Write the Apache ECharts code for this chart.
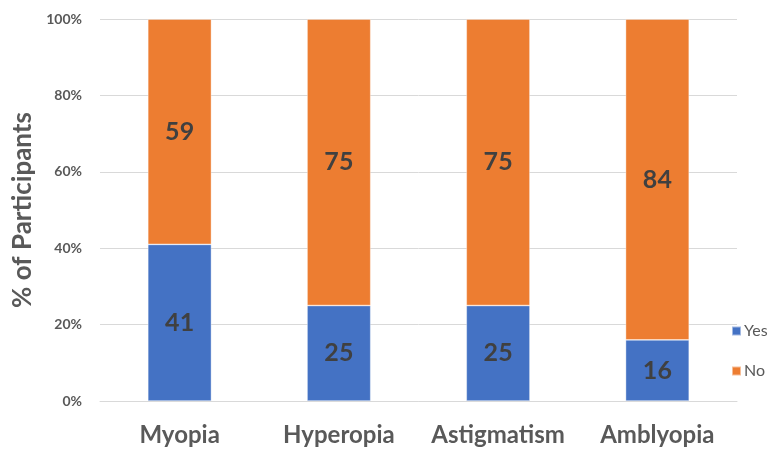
<!DOCTYPE html>
<html>
<head>
<meta charset="utf-8">
<script src="https://cdn.jsdelivr.net/npm/echarts@6/dist/echarts.min.js"></script>
<style>
  html, body { margin: 0; padding: 0; background: #fff; }
  #chart { width: 772px; height: 449px; }
</style>
</head>
<body>
<div id="chart"></div>
<script>
// Share of participants reporting each eye condition
const categories = ['Myopia', 'Hyperopia', 'Astigmatism', 'Amblyopia'];
const yesValues = [41, 25, 25, 16];
const noValues = [59, 75, 75, 84];
const yTicks = [0, 20, 40, 60, 80, 100];

const FONT = 'Lato, "Open Sans", sans-serif';

const labelStyle = {
  show: true,
  position: 'inside',
  color: '#404040',
  fontFamily: FONT,
  fontWeight: 'bold',
  fontSize: 25
};

const chart = echarts.init(document.getElementById('chart'));
chart.setOption({
  animation: false,
  grid: { left: 100, right: 35, top: 19, bottom: 48 },
  legend: {
    orient: 'vertical',
    left: 726,
    top: 318,
    itemWidth: 9,
    itemHeight: 9,
    itemGap: 24,
    icon: 'rect',
    textStyle: { color: '#595959', fontFamily: FONT, fontSize: 16, padding: [0, 0, 0, -2] },
    data: ['Yes', 'No']
  },
  xAxis: {
    type: 'category',
    data: categories,
    axisLine: { lineStyle: { color: '#d9d9d9', width: 1 } },
    axisTick: { show: false },
    axisLabel: {
      interval: 0,
      hideOverlap: false,
      color: '#595959',
      fontFamily: FONT,
      fontWeight: 'bold',
      fontSize: 24,
      margin: 22
    }
  },
  yAxis: {
    type: 'value',
    min: yTicks[0],
    max: yTicks[yTicks.length - 1],
    interval: 20,
    name: '% of Participants',
    nameLocation: 'middle',
    nameGap: 64,
    nameTextStyle: {
      color: '#595959',
      fontFamily: FONT,
      fontWeight: 'bold',
      fontSize: 26
    },
    axisLine: { show: false },
    axisTick: { show: false },
    splitLine: { lineStyle: { color: '#d9d9d9', width: 1 } },
    axisLabel: {
      formatter: '{value}%',
      color: '#595959',
      fontFamily: FONT,
      fontWeight: 'bold',
      fontSize: 14,
      margin: 18
    }
  },
  series: [
    {
      name: 'Yes',
      type: 'bar',
      stack: 'total',
      barWidth: '40%',
      data: yesValues,
      itemStyle: { color: '#4472C4', borderColor: 'rgba(255,255,255,0.5)', borderWidth: 0.75 },
      label: labelStyle
    },
    {
      name: 'No',
      type: 'bar',
      stack: 'total',
      barWidth: '40%',
      data: noValues,
      itemStyle: { color: '#ED7D31', borderColor: 'rgba(255,255,255,0.5)', borderWidth: 0.75 },
      label: labelStyle
    }
  ]
});
</script>
</body>
</html>
